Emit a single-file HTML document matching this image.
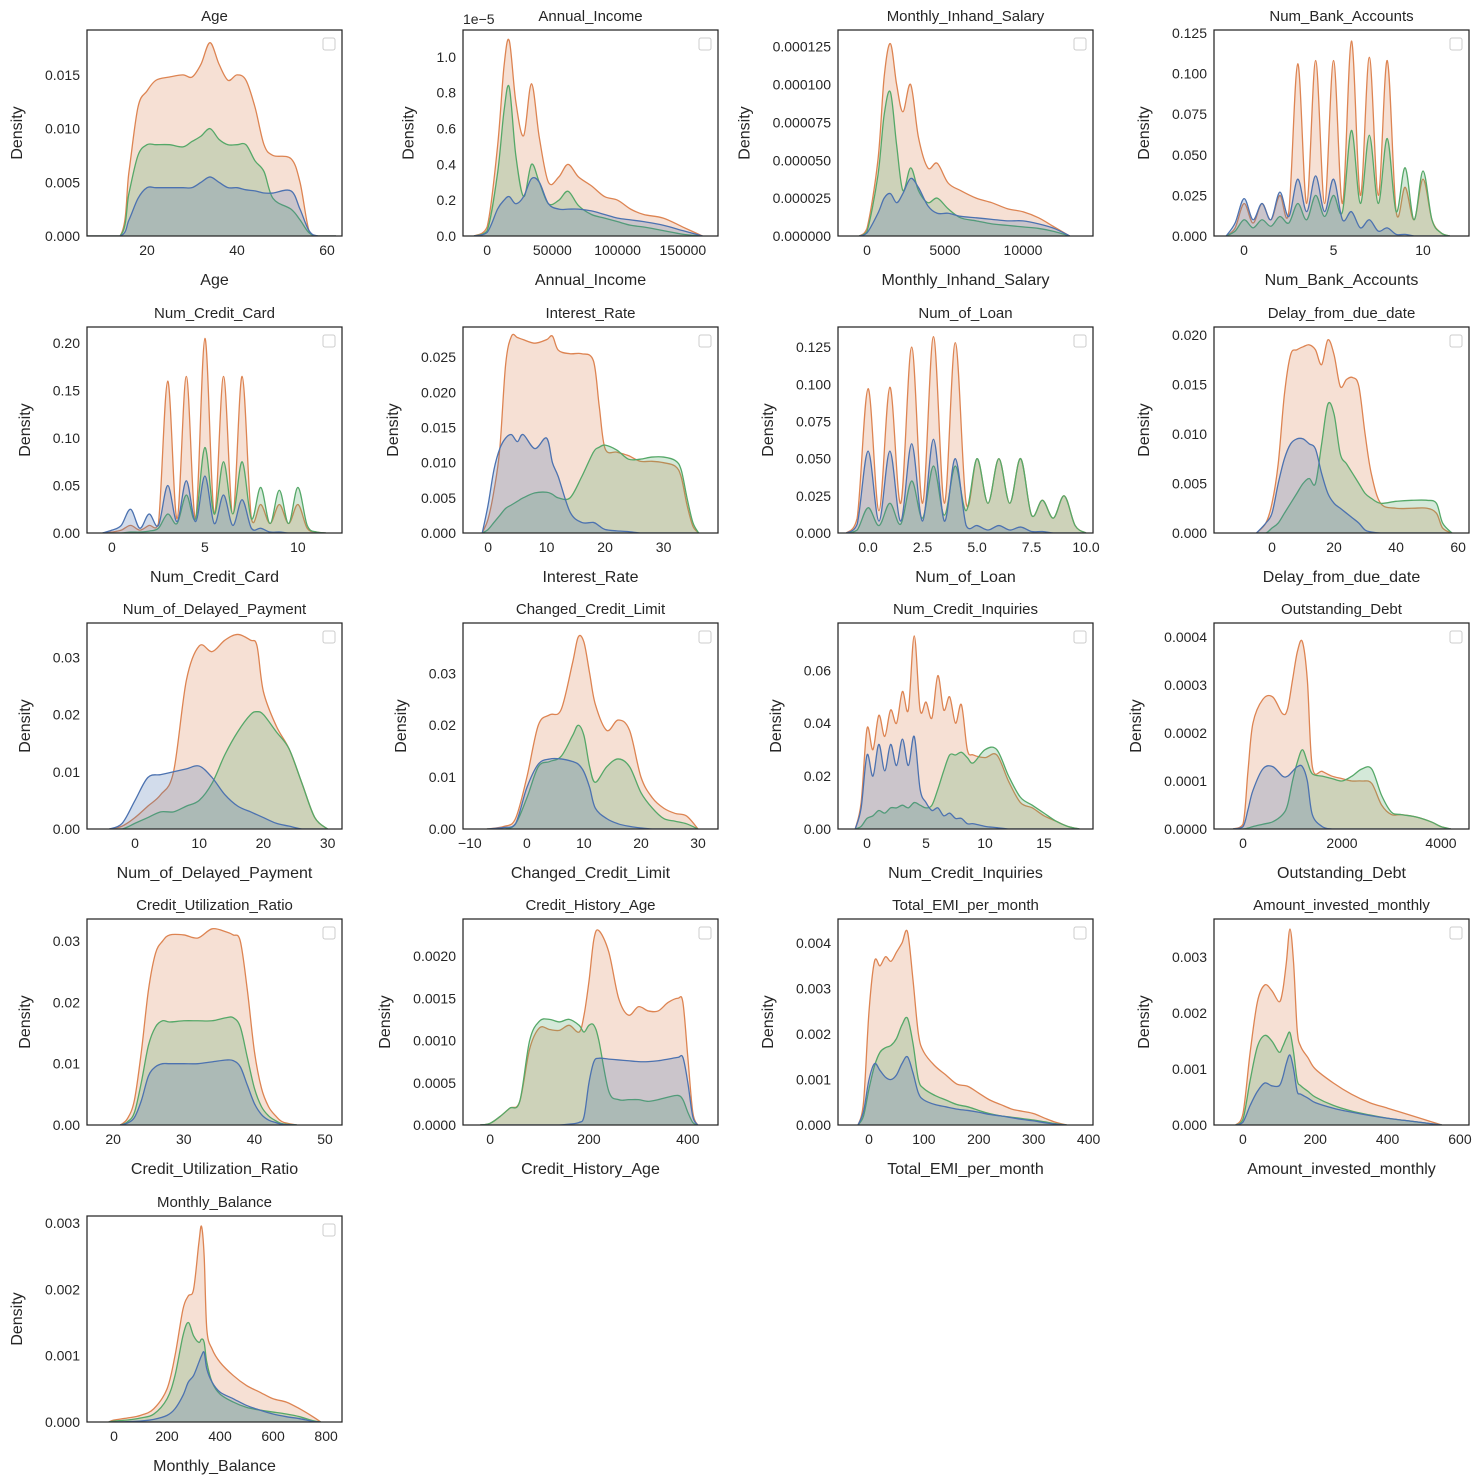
<!DOCTYPE html>
<html><head><meta charset="utf-8"><style>
html,body{margin:0;padding:0;background:#fff;}
svg{display:block;font-family:"Liberation Sans","DejaVu Sans",sans-serif;}
</style></head><body>
<svg id="chart" width="1483" height="1484" viewBox="0 0 1483 1484" xmlns="http://www.w3.org/2000/svg"></svg>
<script>
// ---------- data ----------
const ageX=[6,14,16,18,20,22,25,28,30,32,34,36,38,40,42,44,46,48,52,54,56,58,62];
const ageOrange=[0,0,0.006,0.012,0.0135,0.0145,0.0148,0.015,0.0148,0.016,0.018,0.016,0.0145,0.015,0.0145,0.012,0.0085,0.0075,0.0072,0.005,0.0005,0,0];
const ageGreen=[0,0,0.004,0.0075,0.0085,0.0085,0.0085,0.0083,0.0088,0.0093,0.01,0.009,0.0085,0.0085,0.0085,0.007,0.006,0.0035,0.0025,0.0015,0.0003,0,0];
const ageBlue=[0,0,0.0015,0.0035,0.0045,0.0045,0.0045,0.0045,0.0045,0.005,0.0055,0.005,0.0045,0.0045,0.0043,0.0042,0.004,0.004,0.0042,0.0025,0.0005,0,0];

const incX=[-10000,0,8000,13000,17000,22000,28000,34000,40000,47000,55000,62000,70000,80000,90000,100000,110000,120000,135000,150000,165000];
const incOrange=[0,0.05,0.5,0.95,1.09,0.75,0.56,0.85,0.55,0.3,0.33,0.4,0.33,0.28,0.22,0.2,0.15,0.12,0.1,0.05,0];
const incGreen=[0,0.03,0.35,0.7,0.83,0.45,0.22,0.4,0.3,0.18,0.2,0.25,0.17,0.12,0.1,0.08,0.06,0.05,0.03,0.01,0];
const incBlue=[0,0.02,0.15,0.2,0.22,0.18,0.22,0.32,0.3,0.18,0.15,0.15,0.15,0.14,0.12,0.1,0.09,0.08,0.06,0.03,0];

const salX=[-500,0,700,1100,1500,1900,2300,2800,3300,3900,4500,5200,6000,7000,8000,9000,10000,11000,12000,13000];
const salOrange=[0,5,50,105,127,100,82,100,65,45,48,35,30,25,22,18,16,12,6,0];
const salGreen=[0,3,40,80,95,60,30,45,30,22,25,18,12,10,8,7,6,5,3,0];
const salBlue=[0,2,15,25,28,22,28,38,32,20,15,15,13,12,11,10,10,8,5,0];

const bankX=[-1,-0.5,0,0.5,1,1.5,2,2.5,3,3.5,4,4.5,5,5.5,6,6.5,7,7.5,8,8.5,9,9.5,10,10.5,11,11.5];
const bankOrange=[0,0.005,0.02,0.008,0.02,0.01,0.025,0.015,0.106,0.02,0.108,0.02,0.108,0.02,0.12,0.025,0.11,0.025,0.108,0.015,0.03,0.01,0.035,0.01,0.002,0];
const bankGreen=[0,0.003,0.01,0.005,0.01,0.006,0.012,0.008,0.02,0.01,0.025,0.012,0.025,0.015,0.065,0.02,0.062,0.02,0.06,0.015,0.042,0.01,0.04,0.01,0.002,0];
const bankBlue=[0,0.008,0.023,0.01,0.02,0.01,0.027,0.012,0.035,0.015,0.037,0.015,0.035,0.01,0.015,0.005,0.01,0.003,0.005,0.001,0.001,0,0,0,0,0];

const cardX=[-0.5,0,0.5,1,1.5,2,2.5,3,3.5,4,4.5,5,5.5,6,6.5,7,7.5,8,8.5,9,9.5,10,10.5,11,11.5];
const cardOrange=[0,0.001,0.003,0.008,0.003,0.008,0.01,0.16,0.015,0.165,0.015,0.205,0.02,0.165,0.02,0.165,0.015,0.03,0.01,0.03,0.01,0.03,0.005,0.001,0];
const cardGreen=[0,0,0,0.001,0.001,0.002,0.005,0.02,0.01,0.04,0.015,0.09,0.02,0.075,0.02,0.075,0.015,0.048,0.01,0.045,0.01,0.048,0.008,0.001,0];
const cardBlue=[0,0.003,0.008,0.025,0.005,0.02,0.008,0.05,0.012,0.055,0.012,0.06,0.01,0.04,0.008,0.035,0.005,0.005,0.001,0.001,0,0,0,0,0];

const rateX=[-1,0,1,2,3,4,5,6,8,10,11,12,14,16,18,19,20,22,24,26,28,30,32,33,34,35,36];
const rateOrange=[0,0.002,0.006,0.012,0.024,0.028,0.0278,0.0275,0.027,0.0275,0.028,0.026,0.0255,0.0255,0.0245,0.018,0.012,0.0115,0.011,0.0102,0.0102,0.01,0.0095,0.008,0.004,0.001,0];
const rateGreen=[0,0.0005,0.0015,0.0025,0.0035,0.004,0.0045,0.005,0.0057,0.0058,0.0055,0.005,0.005,0.008,0.0115,0.0122,0.0125,0.0118,0.0105,0.0105,0.0108,0.0108,0.0103,0.009,0.005,0.0015,0];
const rateBlue=[0,0.004,0.009,0.012,0.0135,0.014,0.013,0.014,0.012,0.0135,0.01,0.008,0.003,0.0015,0.0015,0.001,0.0005,0.0003,0.0002,0,0,0,0,0,0,0,0];

const loanX=[-1,-0.5,0,0.5,1,1.5,2,2.5,3,3.5,4,4.5,5,5.5,6,6.5,7,7.5,8,8.5,9,9.5,10];
const loanOrange=[0,0.01,0.097,0.015,0.098,0.02,0.125,0.02,0.132,0.02,0.128,0.02,0.05,0.02,0.05,0.02,0.05,0.012,0.022,0.01,0.025,0.005,0];
const loanGreen=[0,0.002,0.017,0.005,0.02,0.006,0.035,0.01,0.045,0.012,0.045,0.015,0.05,0.02,0.05,0.02,0.05,0.012,0.022,0.01,0.025,0.005,0];
const loanBlue=[0,0.006,0.055,0.008,0.055,0.008,0.06,0.008,0.063,0.008,0.05,0.005,0.005,0.002,0.005,0.002,0.004,0.001,0.001,0,0,0,0];

const delayX=[-5,-2,0,2,4,6,8,10,12,14,16,18,20,22,24,26,28,30,32,35,40,45,50,53,55,58];
const delayOrange=[0,0.001,0.003,0.007,0.014,0.018,0.0185,0.0188,0.019,0.0185,0.017,0.0195,0.018,0.0148,0.0155,0.0157,0.0148,0.01,0.006,0.003,0.0025,0.0025,0.0025,0.002,0.0005,0];
const delayGreen=[0,0,0.0005,0.001,0.002,0.003,0.004,0.005,0.0055,0.005,0.009,0.013,0.012,0.008,0.007,0.006,0.005,0.004,0.0035,0.003,0.0032,0.0033,0.0033,0.003,0.001,0];
const delayBlue=[0,0.001,0.002,0.005,0.0075,0.009,0.0095,0.0095,0.009,0.0085,0.006,0.004,0.003,0.0025,0.002,0.0015,0.001,0.0003,0.0001,0,0,0,0,0,0,0];

const dpayX=[-4,-2,0,2,4,6,8,10,12,14,16,18,19,20,22,24,26,28,30];
const dpayOrange=[0,0.0005,0.002,0.004,0.006,0.01,0.026,0.032,0.031,0.033,0.034,0.033,0.032,0.024,0.018,0.014,0.008,0.002,0];
const dpayGreen=[0,0,0.001,0.002,0.003,0.003,0.004,0.005,0.008,0.013,0.017,0.02,0.0205,0.02,0.017,0.014,0.008,0.002,0];
const dpayBlue=[0,0.001,0.005,0.009,0.0095,0.01,0.0105,0.011,0.009,0.006,0.004,0.003,0.0025,0.002,0.001,0.0005,0,0,0];

const cclX=[-7,-4,-2,0,2,4,6,8,9,10,11,12,14,16,18,20,22,24,26,28,30];
const cclOrange=[0,0.0005,0.002,0.01,0.02,0.022,0.023,0.032,0.037,0.036,0.03,0.024,0.019,0.021,0.019,0.01,0.006,0.004,0.003,0.0025,0];
const cclGreen=[0,0,0.001,0.006,0.012,0.013,0.014,0.018,0.02,0.018,0.012,0.009,0.012,0.0135,0.012,0.007,0.004,0.002,0.0015,0.001,0];
const cclBlue=[0,0.0003,0.001,0.008,0.0125,0.0135,0.0135,0.013,0.0125,0.011,0.008,0.004,0.002,0.001,0.0005,0.0002,0,0,0,0,0];

const inqX=[-1,-0.5,0,0.5,1,1.5,2,2.5,3,3.5,4,4.5,5,5.5,6,6.5,7,7.5,8,8.5,9,10,11,12,13,14,15,16,17,18];
const inqOrange=[0,0.01,0.038,0.03,0.043,0.035,0.045,0.04,0.052,0.045,0.073,0.045,0.048,0.042,0.058,0.045,0.05,0.04,0.047,0.03,0.028,0.027,0.028,0.018,0.01,0.008,0.005,0.003,0.001,0];
const inqGreen=[0,0.001,0.004,0.005,0.007,0.006,0.008,0.008,0.009,0.008,0.01,0.009,0.008,0.009,0.015,0.022,0.028,0.028,0.029,0.027,0.025,0.03,0.03,0.02,0.012,0.009,0.006,0.003,0.001,0];
const inqBlue=[0,0.008,0.028,0.02,0.032,0.022,0.032,0.024,0.034,0.024,0.035,0.015,0.01,0.007,0.008,0.005,0.006,0.004,0.004,0.002,0.002,0.001,0.0005,0,0,0,0,0,0,0];

const debtX=[-200,0,100,200,400,600,800,900,1000,1100,1200,1300,1400,1600,1800,2000,2200,2400,2600,2800,3000,3200,3500,3800,4000,4200];
const debtOrange=[0,10,120,220,270,275,240,250,310,370,390,310,130,120,110,105,100,100,95,50,30,30,25,15,5,0];
const debtGreen=[0,0,2,5,10,15,30,50,100,140,165,140,115,110,105,100,110,125,125,70,35,30,25,15,5,0];
const debtBlue=[0,5,40,80,125,130,110,110,120,130,130,100,30,5,0,0,0,0,0,0,0,0,0,0,0,0];

const utilX=[21,22,23,24,25,26,27,28,30,32,34,36,37,38,39,40,41,42,43,44,46];
const utilOrange=[0,0.001,0.004,0.012,0.022,0.028,0.03,0.031,0.031,0.0305,0.032,0.0315,0.031,0.03,0.022,0.012,0.006,0.003,0.0015,0.0005,0];
const utilGreen=[0,0.0005,0.002,0.007,0.013,0.016,0.017,0.0168,0.017,0.017,0.017,0.0175,0.0175,0.016,0.011,0.006,0.003,0.0015,0.0007,0.0002,0];
const utilBlue=[0,0.0003,0.0012,0.004,0.008,0.0095,0.01,0.01,0.01,0.01,0.0103,0.0106,0.0105,0.0095,0.0065,0.0035,0.0017,0.0008,0.0004,0.0001,0];

const histX=[-20,0,20,40,60,80,100,120,140,160,180,190,200,210,220,240,260,280,300,320,340,360,380,390,400,410,420];
const histOrange=[0,20,100,200,280,900,1150,1130,1120,1180,1100,1300,1700,2200,2300,2050,1500,1300,1400,1350,1350,1450,1500,1450,800,150,0];
const histGreen=[0,20,100,200,280,1000,1230,1250,1220,1250,1180,1100,1180,1180,1000,400,300,300,300,280,300,330,350,300,150,30,0];
const histBlue=[0,0,0,0,0,0,0,0,0,10,30,100,500,750,790,780,770,760,750,750,760,780,800,800,500,100,0];

const emiX=[-20,-10,0,10,20,30,40,50,60,70,80,90,100,120,140,160,180,200,220,240,260,280,300,320,340,360];
const emiOrange=[0,500,2500,3600,3500,3700,3600,3800,4000,4250,3200,2000,1600,1300,1100,900,850,700,550,450,350,300,250,150,60,0];
const emiGreen=[0,200,800,1300,1600,1700,1750,1900,2200,2350,1800,1000,800,650,550,450,400,320,250,200,170,140,110,70,30,0];
const emiBlue=[0,300,1000,1350,1200,1050,1000,1100,1350,1500,1150,700,550,450,400,350,320,280,230,200,160,120,90,50,20,0];

const invX=[-20,0,20,40,60,80,100,110,120,130,140,150,160,180,200,250,300,350,400,450,500,550];
const invOrange=[0,200,1300,2200,2500,2400,2200,2400,2900,3500,2900,1700,1400,1200,1000,750,550,400,300,200,100,0];
const invGreen=[0,100,800,1400,1600,1500,1300,1400,1550,1650,1300,800,700,600,500,350,250,180,120,80,40,0];
const invBlue=[0,50,350,600,750,700,700,850,1100,1250,1000,600,550,480,400,300,230,170,120,80,40,0];

const balX=[-20,0,50,100,150,200,230,260,280,300,320,330,340,350,370,400,450,500,550,600,650,700,750,780];
const balOrange=[0,30,60,100,200,500,1000,1700,1900,2000,2700,2950,2500,1400,1100,900,700,550,450,350,300,200,80,0];
const balGreen=[0,15,30,60,120,350,700,1300,1500,1300,1200,1250,1200,900,600,420,300,220,180,150,120,80,20,0];
const balBlue=[0,0,5,15,40,100,200,400,600,700,900,1000,1050,800,600,450,350,250,180,120,80,50,10,0];

// ---------- axes config (ticks & limits) ----------
const panels=[
 {title:"Age",xs:ageX,o:ageOrange,g:ageGreen,b:ageBlue,xd:[6.67,63.33],yd:[0,0.01918],xt:[20,40,60],xl:["20","40","60"],yt:[0,0.005,0.01,0.015],yl:["0.000","0.005","0.010","0.015"],ys:1},
 {title:"Annual_Income",xs:incX,o:incOrange,g:incGreen,b:incBlue,xd:[-18462,176923],yd:[0,1.15],xt:[0,50000,100000,150000],xl:["0","50000","100000","150000"],yt:[0,0.2,0.4,0.6,0.8,1.0],yl:["0.0","0.2","0.4","0.6","0.8","1.0"],off:"1e\u22125"},
 {title:"Monthly_Inhand_Salary",xs:salX,o:salOrange,g:salGreen,b:salBlue,xd:[-1859,14487],yd:[0,136],xt:[0,5000,10000],xl:["0","5000","10000"],yt:[0,25,50,75,100,125],yl:["0.000000","0.000025","0.000050","0.000075","0.000100","0.000125"]},
 {title:"Num_Bank_Accounts",xs:bankX,o:bankOrange,g:bankGreen,b:bankBlue,xd:[-1.68,12.57],yd:[0,0.1268],xt:[0,5,10],xl:["0","5","10"],yt:[0,0.025,0.05,0.075,0.1,0.125],yl:["0.000","0.025","0.050","0.075","0.100","0.125"]},
 {title:"Num_Credit_Card",xs:cardX,o:cardOrange,g:cardGreen,b:cardBlue,xd:[-1.34,12.37],yd:[0,0.217],xt:[0,5,10],xl:["0","5","10"],yt:[0,0.05,0.1,0.15,0.2],yl:["0.00","0.05","0.10","0.15","0.20"]},
 {title:"Interest_Rate",xs:rateX,o:rateOrange,g:rateGreen,b:rateBlue,xd:[-4.29,39.3],yd:[0,0.0293],xt:[0,10,20,30],xl:["0","10","20","30"],yt:[0,0.005,0.01,0.015,0.02,0.025],yl:["0.000","0.005","0.010","0.015","0.020","0.025"]},
 {title:"Num_of_Loan",xs:loanX,o:loanOrange,g:loanGreen,b:loanBlue,xd:[-1.38,10.32],yd:[0,0.1385],xt:[0,2.5,5,7.5,10],xl:["0.0","2.5","5.0","7.5","10.0"],yt:[0,0.025,0.05,0.075,0.1,0.125],yl:["0.000","0.025","0.050","0.075","0.100","0.125"]},
 {title:"Delay_from_due_date",xs:delayX,o:delayOrange,g:delayGreen,b:delayBlue,xd:[-18.7,63.5],yd:[0,0.0208],xt:[0,20,40,60],xl:["0","20","40","60"],yt:[0,0.005,0.01,0.015,0.02],yl:["0.000","0.005","0.010","0.015","0.020"]},
 {title:"Num_of_Delayed_Payment",xs:dpayX,o:dpayOrange,g:dpayGreen,b:dpayBlue,xd:[-7.48,32.24],yd:[0,0.036],xt:[0,10,20,30],xl:["0","10","20","30"],yt:[0,0.01,0.02,0.03],yl:["0.00","0.01","0.02","0.03"]},
 {title:"Changed_Credit_Limit",xs:cclX,o:cclOrange,g:cclGreen,b:cclBlue,xd:[-11.2,33.5],yd:[0,0.0397],xt:[-10,0,10,20,30],xl:["\u221210","0","10","20","30"],yt:[0,0.01,0.02,0.03],yl:["0.00","0.01","0.02","0.03"]},
 {title:"Num_Credit_Inquiries",xs:inqX,o:inqOrange,g:inqGreen,b:inqBlue,xd:[-2.46,19.15],yd:[0,0.0779],xt:[0,5,10,15],xl:["0","5","10","15"],yt:[0,0.02,0.04,0.06],yl:["0.00","0.02","0.04","0.06"]},
 {title:"Outstanding_Debt",xs:debtX,o:debtOrange,g:debtGreen,b:debtBlue,xd:[-586,4566],yd:[0,429],xt:[0,2000,4000],xl:["0","2000","4000"],yt:[0,100,200,300,400],yl:["0.0000","0.0001","0.0002","0.0003","0.0004"]},
 {title:"Credit_Utilization_Ratio",xs:utilX,o:utilOrange,g:utilGreen,b:utilBlue,xd:[16.3,52.4],yd:[0,0.0336],xt:[20,30,40,50],xl:["20","30","40","50"],yt:[0,0.01,0.02,0.03],yl:["0.00","0.01","0.02","0.03"]},
 {title:"Credit_History_Age",xs:histX,o:histOrange,g:histGreen,b:histBlue,xd:[-54.8,461],yd:[0,2438],xt:[0,200,400],xl:["0","200","400"],yt:[0,500,1000,1500,2000],yl:["0.0000","0.0005","0.0010","0.0015","0.0020"]},
 {title:"Total_EMI_per_month",xs:emiX,o:emiOrange,g:emiGreen,b:emiBlue,xd:[-56.5,408],yd:[0,4530],xt:[0,100,200,300,400],xl:["0","100","200","300","400"],yt:[0,1000,2000,3000,4000],yl:["0.000","0.001","0.002","0.003","0.004"]},
 {title:"Amount_invested_monthly",xs:invX,o:invOrange,g:invGreen,b:invBlue,xd:[-80,625],yd:[0,3680],xt:[0,200,400,600],xl:["0","200","400","600"],yt:[0,1000,2000,3000],yl:["0.000","0.001","0.002","0.003"]},
 {title:"Monthly_Balance",xs:balX,o:balOrange,g:balGreen,b:balBlue,xd:[-102,860],yd:[0,3106],xt:[0,200,400,600,800],xl:["0","200","400","600","800"],yt:[0,1000,2000,3000],yl:["0.000","0.001","0.002","0.003"]}
];

// ---------- rendering ----------
const NS="http://www.w3.org/2000/svg";
const svg=document.getElementById('chart');
const COLS=[87,463,838,1214], ROWS=[30,327,623,919,1216], W=255, H=206;
const COLORS={o:"#dd8452",g:"#55a868",b:"#4c72b0"};
function mk(tag,attrs,parent){const e=document.createElementNS(NS,tag);for(const k in attrs)e.setAttribute(k,attrs[k]);(parent||svg).appendChild(e);return e;}
function slug(s){return s.toLowerCase().replace(/_/g,'-');}
function smoothPath(pts,base){
  let d="M"+pts[0][0].toFixed(2)+","+pts[0][1].toFixed(2);
  for(let i=0;i<pts.length-1;i++){
    const p0=pts[Math.max(i-1,0)],p1=pts[i],p2=pts[i+1],p3=pts[Math.min(i+2,pts.length-1)];
    const t=1/6;
    let c1x=p1[0]+(p2[0]-p0[0])*t,c1y=p1[1]+(p2[1]-p0[1])*t;
    let c2x=p2[0]-(p3[0]-p1[0])*t,c2y=p2[1]-(p3[1]-p1[1])*t;
    c1y=Math.min(c1y,base);c2y=Math.min(c2y,base);
    d+=" C"+c1x.toFixed(2)+","+c1y.toFixed(2)+" "+c2x.toFixed(2)+","+c2y.toFixed(2)+" "+p2[0].toFixed(2)+","+p2[1].toFixed(2);
  }
  return d;
}
panels.forEach((p,i)=>{
  const L=COLS[i%4], T=ROWS[Math.floor(i/4)], B=T+H, R=L+W;
  const sx=v=>L+(v-p.xd[0])/(p.xd[1]-p.xd[0])*W;
  const sy=v=>B-(v-p.yd[0])/(p.yd[1]-p.yd[0])*H;
  const g=mk('g',{});
  
  
  const clipId='clip'+i;
  const cp=mk('clipPath',{id:clipId},g); mk('rect',{x:L,y:T,width:W,height:H},cp);
  const series=mk('g',{'clip-path':'url(#'+clipId+')'},g);
  
  
  ['o','g','b'].forEach(k=>{
    const pts=p.xs.map((x,j)=>[sx(x),sy(p[k][j])]);
    const line=smoothPath(pts,B);
    const area=mk('path',{d:line+" L"+pts[pts.length-1][0].toFixed(2)+","+B+" L"+pts[0][0].toFixed(2)+","+B+" Z",fill:COLORS[k],'fill-opacity':0.25,stroke:'none'},series);
    
    
    const ln=mk('path',{d:line,fill:'none',stroke:COLORS[k],'stroke-width':1.3},series);
    
    
  });
  const frame=mk('rect',{x:L,y:T,width:W,height:H,fill:'none',stroke:'#262626','stroke-width':1.25},g);
  
  
  const leg=mk('rect',{x:R-19,y:T+8,width:12,height:12,rx:2,fill:'#fff',stroke:'#cccccc','stroke-width':1},g);
  
  
  p.xt.forEach((v,j)=>{
    const t=mk('text',{x:sx(v),y:B+19,'text-anchor':'middle','font-size':14,fill:'#262626'},g);
    t.textContent=p.xl[j];
    
    
  });
  let maxW=0;
  p.yt.forEach((v,j)=>{
    const t=mk('text',{x:L-7,y:sy(v)+5,'text-anchor':'end','font-size':14,fill:'#262626'},g);
    t.textContent=p.yl[j];
    
    
    try{maxW=Math.max(maxW,t.getComputedTextLength());}catch(e){maxW=Math.max(maxW,p.yl[j].length*7.8);}
  });
  const tt=mk('text',{x:(L+R)/2,y:T-9,'text-anchor':'middle','font-size':15,fill:'#262626'},g);
  tt.textContent=p.title;
  
  
  const xl=mk('text',{x:(L+R)/2,y:B+49,'text-anchor':'middle','font-size':16,fill:'#262626'},g);
  xl.textContent=p.title;
  
  
  const yx=L-7-maxW-23;
  const yl=mk('text',{x:yx,y:(T+B)/2,'text-anchor':'middle','font-size':16,fill:'#262626',transform:'rotate(-90 '+yx+' '+((T+B)/2)+')'},g);
  yl.textContent="Density";
  
  
  if(p.off){
    const o=mk('text',{x:L,y:T-6,'text-anchor':'start','font-size':14,fill:'#262626'},g);
    o.textContent=p.off;
    
    
  }
});
</script>
</body></html>
